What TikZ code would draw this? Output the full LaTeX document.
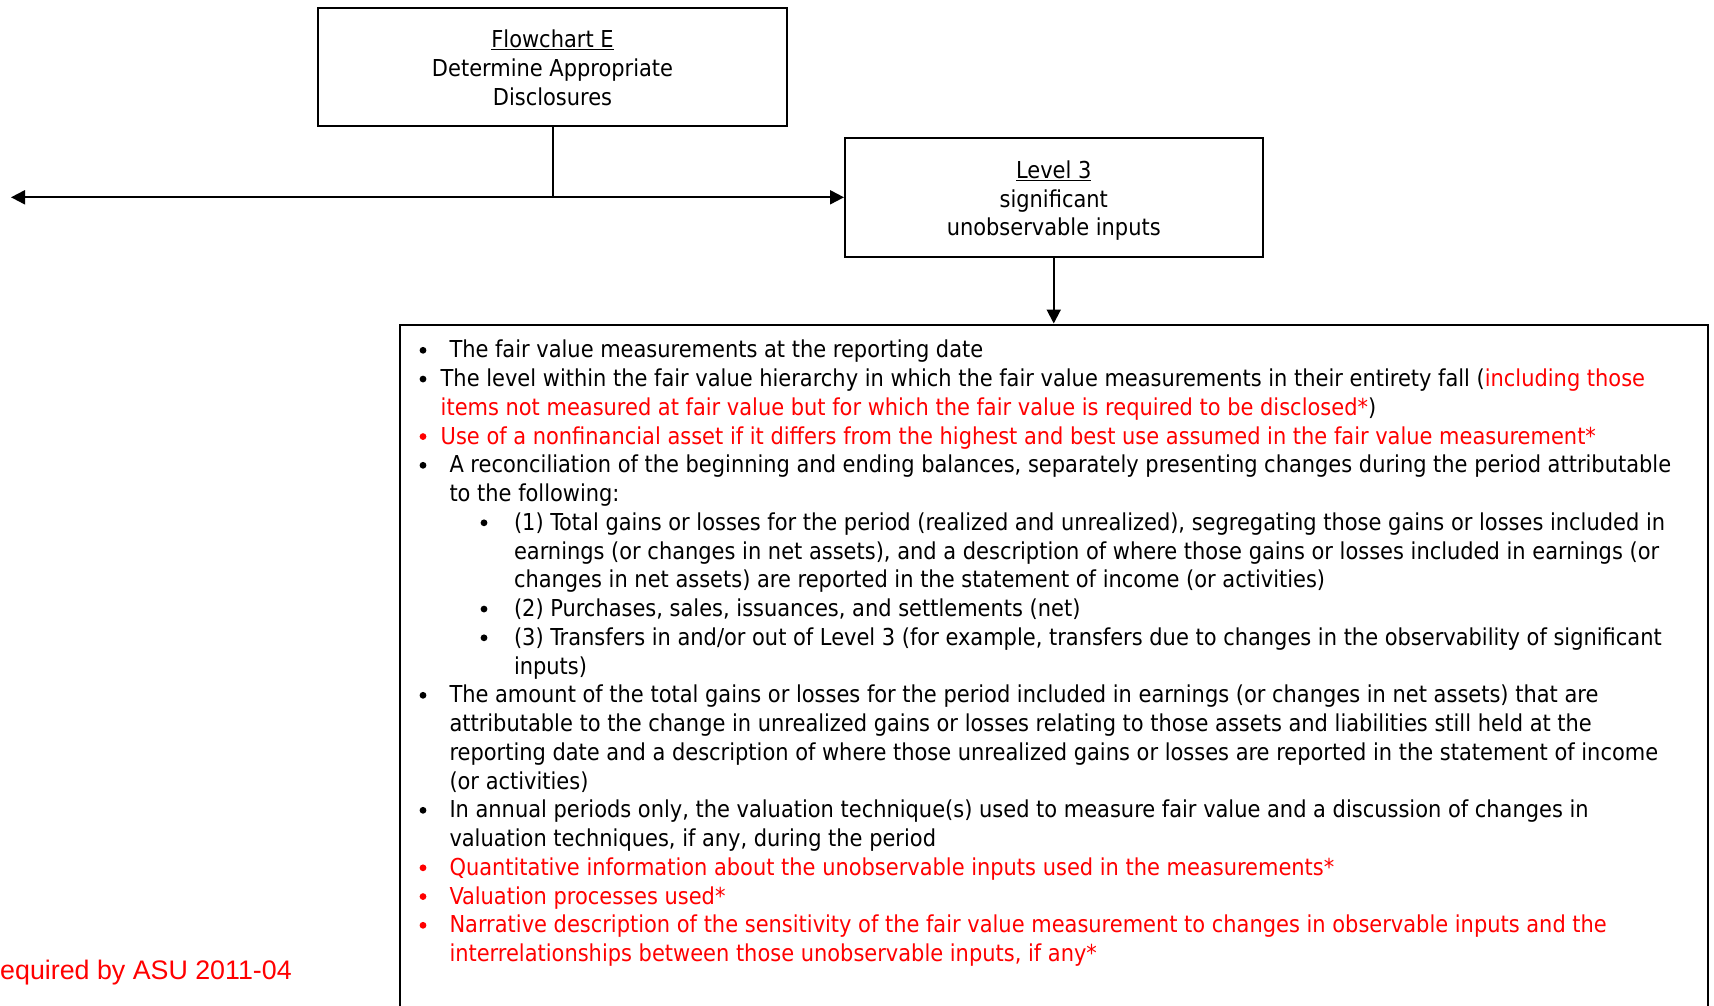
\documentclass[tikz,border=0pt]{standalone}
\usepackage{fontspec}
\setmainfont{DejaVu Sans Condensed}
\newfontfamily\notefont{Liberation Sans}
\usetikzlibrary{arrows.meta}
\newcommand\bodyfs{\fontsize{23.3}{28.75}\selectfont}
\begin{document}
\begin{tikzpicture}[x=1pt,y=-1pt,
  box/.style={draw, line width=2pt, rectangle, inner sep=0pt},
  boxtext/.style={inner sep=0pt, align=center, font=\bodyfs},
  conn/.style={line width=2pt},
  arr/.style={line width=2pt, -{Triangle[length=14pt,width=14pt]}},
  txt/.style={anchor=base west, inner sep=0pt, font=\bodyfs},
  bul/.style={circle, fill, inner sep=0pt, minimum size=6.8pt, yshift=7.5pt},
  hl/.style={text=red},
  hlb/.style={fill=red}]
\useasboundingbox (0,0) rectangle (1714,1005);
\clip (0,0) rectangle (1714,1005);

% boxes
\node[box, minimum width=469pt, minimum height=118pt] (top) at (552.5,66.7) {};
\node[boxtext] (toptext) at ([yshift=-1.2pt]top.center)
  {\underline{Flowchart E}\\Determine Appropriate\\Disclosures};
\node[box, minimum width=417.5pt, minimum height=119.2pt] (lvl) at (1053.75,197.3) {};
\node[boxtext] (lvltext) at ([yshift=-3.3pt]lvl.center)
  {\underline{Level 3}\\significant\\unobservable inputs};
\node[box, anchor=north, minimum width=1307.5pt, minimum height=760pt] (big) at (1053.75,323.5) {};

% connectors
\coordinate (split) at (top.south |- lvl.west);
\coordinate (leftend) at (11,197.3);
\draw[conn] (top.south) -- (split);
\draw[arr] (split) -- (leftend);
\draw[arr] (split) -- (lvl.west);
\draw[arr] (lvl.south) -- (big.north);

% disclosure list
\begin{scope}[yshift=-1.1pt]
\node[bul] (b1) at (423,356.7) {};
\node[txt] (t1) at (449.3,356.7) {The fair value measurements at the reporting date};
\node[bul] (b2) at (423,385.45) {};
\node[txt] (t2) at (440.5,385.45) {The level within the fair value hierarchy in which the fair value measurements in their entirety fall (\textcolor{red}{including those}};
\node[txt] (t3) at (440.5,414.2) {\textcolor{red}{items not measured at fair value but for which the fair value is required to be disclosed*})};
\node[bul, hlb] (b4) at (423,442.95) {};
\node[txt, hl] (t4) at (440.5,442.95) {Use of a nonfinancial asset if it differs from the highest and best use assumed in the fair value measurement*};
\node[bul] (b5) at (423,471.7) {};
\node[txt] (t5) at (449.3,471.7) {A reconciliation of the beginning and ending balances, separately presenting changes during the period attributable};
\node[txt] (t6) at (449.3,500.45) {to the following:};
\node[bul] (b7) at (484,529.2) {};
\node[txt] (t7) at (513.8,529.2) {(1) Total gains or losses for the period (realized and unrealized), segregating those gains or losses included in};
\node[txt] (t8) at (513.8,557.95) {earnings (or changes in net assets), and a description of where those gains or losses included in earnings (or};
\node[txt] (t9) at (513.8,586.7) {changes in net assets) are reported in the statement of income (or activities)};
\node[bul] (b10) at (484,615.45) {};
\node[txt] (t10) at (513.8,615.45) {(2) Purchases, sales, issuances, and settlements (net)};
\node[bul] (b11) at (484,644.2) {};
\node[txt] (t11) at (513.8,644.2) {(3) Transfers in and/or out of Level 3 (for example, transfers due to changes in the observability of significant};
\node[txt] (t12) at (513.8,672.95) {inputs)};
\node[bul] (b13) at (423,701.7) {};
\node[txt] (t13) at (449.3,701.7) {The amount of the total gains or losses for the period included in earnings (or changes in net assets) that are};
\node[txt] (t14) at (449.3,730.45) {attributable to the change in unrealized gains or losses relating to those assets and liabilities still held at the};
\node[txt] (t15) at (449.3,759.2) {reporting date and a description of where those unrealized gains or losses are reported in the statement of income};
\node[txt] (t16) at (449.3,787.95) {(or activities)};
\node[bul] (b17) at (423,816.7) {};
\node[txt] (t17) at (449.3,816.7) {In annual periods only, the valuation technique(s) used to measure fair value and a discussion of changes in};
\node[txt] (t18) at (449.3,845.45) {valuation techniques, if any, during the period};
\node[bul, hlb] (b19) at (423,874.2) {};
\node[txt, hl] (t19) at (449.3,874.2) {Quantitative information about the unobservable inputs used in the measurements*};
\node[bul, hlb] (b20) at (423,902.95) {};
\node[txt, hl] (t20) at (449.3,902.95) {Valuation processes used*};
\node[bul, hlb] (b21) at (423,931.7) {};
\node[txt, hl] (t21) at (449.3,931.7) {Narrative description of the sensitivity of the fair value measurement to changes in observable inputs and the};
\node[txt, hl] (t22) at (449.3,960.45) {interrelationships between those unobservable inputs, if any*};
\end{scope}

% footnote
\node[anchor=base west, inner sep=0pt, text=red, font=\notefont\fontsize{26.8}{30}\selectfont] (note) at (0,979) {equired by ASU 2011-04};
\end{tikzpicture}
\end{document}
